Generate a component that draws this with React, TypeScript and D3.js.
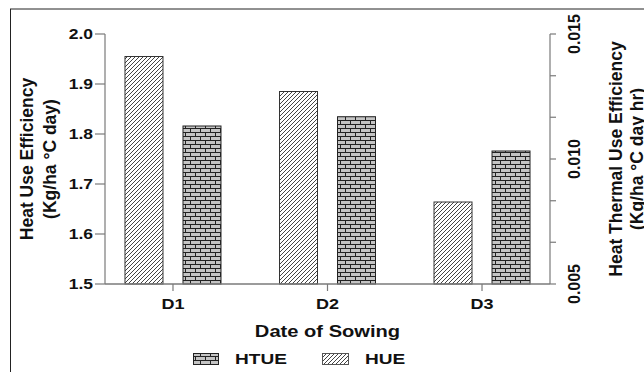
import * as d3 from "d3";

const categories = ["D1", "D2", "D3"];
const hueValues = [1.955, 1.885, 1.664];
const htueValues = [0.01132, 0.01169, 0.01032];
const leftTicks = [1.5, 1.6, 1.7, 1.8, 1.9, 2.0];
const rightTicks = [0.005, 0.00667, 0.00833, 0.01, 0.01167, 0.01333, 0.015];
const rightLabels = ["0.005", "0.010", "0.015"];

const FONT = "'Liberation Sans', Arial, sans-serif";

export default function App() {
  const width = 644;
  const height = 372;
  const MARGIN = { top: 34, right: 94, bottom: 88, left: 105 };
  const x0 = MARGIN.left;
  const x1 = width - MARGIN.right;
  const yTop = MARGIN.top;
  const yBottom = height - MARGIN.bottom;

  const xScale = d3.scalePoint().domain(categories).range([x0, x1]).padding(0.44);
  const sub = d3.scaleBand().domain(["HUE", "HTUE"]).range([-48, 48]).paddingInner(0.345);
  const yLeft = d3.scaleLinear().domain([1.5, 2.0]).range([yBottom, yTop]);
  const yRight = d3.scaleLinear().domain([0.005, 0.015]).range([yBottom, yTop]);

  const axisColor = "#7a7a7a";
  const textColor = "#111";

  const bars = categories.map((c, i) => {
    const cx = xScale(c)!;
    const yh = yLeft(hueValues[i]);
    const yt = yRight(htueValues[i]);
    return (
      <g key={c}>
        <rect
          x={cx + sub("HUE")!}
          y={yh}
          width={sub.bandwidth()}
          height={yBottom - yh}
          fill="url(#diag)"
          stroke="#333"
          strokeWidth={1}
        />
        <rect
          x={cx + sub("HTUE")!}
          y={yt}
          width={sub.bandwidth()}
          height={yBottom - yt}
          fill="url(#brick)"
          stroke="#222"
          strokeWidth={1}
        />
      </g>
    );
  });

  return (
    <svg
      width={width}
      height={height}
      style={{ position: "fixed", left: 0, top: 0, background: "#fff" }}
      fontFamily={FONT}
      fontWeight="bold"
    >
      <defs>
        <pattern id="diag" patternUnits="userSpaceOnUse" width={4} height={4}>
          <rect width={4} height={4} fill="#fff" />
          <path d="M-1,1 L1,-1 M0,4 L4,0 M3,5 L5,3" stroke="#444" strokeWidth={1} />
        </pattern>
        <pattern id="brick" patternUnits="userSpaceOnUse" width={10} height={8}>
          <rect width={10} height={8} fill="#c4c4c4" />
          <path d="M0,0.5 H10 M0,4.5 H10 M0.5,0.5 V4.5 M5.5,4.5 V8.5" stroke="#222" strokeWidth={1} />
        </pattern>
      </defs>

      {/* frame */}
      <line x1={10} x2={width} y1={9} y2={9} stroke="#222" />
      <line x1={10.5} x2={10.5} y1={9} y2={height} stroke="#222" />

      {bars}

      {/* axes */}
      <line x1={x0} x2={x0} y1={yTop} y2={yBottom} stroke={axisColor} strokeWidth={1.2} />
      <line x1={x1} x2={x1} y1={yTop} y2={yBottom} stroke={axisColor} strokeWidth={1.2} />
      <line x1={x0} x2={x1} y1={yBottom} y2={yBottom} stroke={axisColor} strokeWidth={1.5} />

      {leftTicks.map((t) => (
        <g key={t}>
          <line x1={x0 - 10} x2={x0} y1={yLeft(t)} y2={yLeft(t)} stroke={axisColor} strokeWidth={1.2} />
          <text
            transform={`translate(${x0 - 12},${yLeft(t) + 5}) scale(1.25,1)`}
            textAnchor="end"
            fontSize={14}
            fill={textColor}
          >
            {t.toFixed(1)}
          </text>
        </g>
      ))}

      {rightTicks.map((t, i) => (
        <line key={i} x1={x1} x2={x1 + 6} y1={yRight(t)} y2={yRight(t)} stroke={axisColor} strokeWidth={1.2} />
      ))}
      {rightLabels.map((l) => (
        <text
          key={l}
          transform={`translate(${x1 + 30},${yRight(+l)}) rotate(-90)`}
          textAnchor="middle"
          fontSize={16}
          fill={textColor}
        >
          {l}
        </text>
      ))}

      {categories.map((c) => (
        <g key={c}>
          <line x1={xScale(c)} x2={xScale(c)} y1={yBottom} y2={yBottom + 7} stroke={axisColor} strokeWidth={1.2} />
          <text
            transform={`translate(${xScale(c)},${yBottom + 25}) scale(1.2,1)`}
            textAnchor="middle"
            fontSize={15}
            fill={textColor}
          >
            {c}
          </text>
        </g>
      ))}

      {/* axis titles */}
      <text
        transform={`translate(${(x0 + x1) / 2},${yBottom + 53}) scale(1.22,1)`}
        textAnchor="middle"
        fontSize={16.5}
        fill={textColor}
      >
        Date of Sowing
      </text>
      <g transform={`translate(0,${(yTop + yBottom) / 2}) rotate(-90)`} fill={textColor} fontSize={17.5}>
        <text x={0} y={33} textAnchor="middle">Heat Use Efficiency</text>
        <text x={0} y={56} textAnchor="middle">(Kg/ha °C day)</text>
      </g>
      <g transform={`translate(0,${(yTop + yBottom) / 2}) rotate(-90)`} fill={textColor} fontSize={17.5}>
        <text x={0} y={622} textAnchor="middle">Heat Thermal Use Efficiency</text>
        <text x={0} y={643} textAnchor="middle">(Kg/ha °C day hr)</text>
      </g>

      {/* legend */}
      <rect x={193.5} y={353.5} width={25} height={11} fill="url(#brick)" stroke="#222" />
      <text transform={`translate(235,364) scale(1.23,1)`} fontSize={15.5} fill={textColor}>HTUE</text>
      <rect x={322.5} y={353.5} width={26} height={11} fill="url(#diag)" stroke="#555" />
      <text transform={`translate(365,364) scale(1.23,1)`} fontSize={15.5} fill={textColor}>HUE</text>
    </svg>
  );
}
